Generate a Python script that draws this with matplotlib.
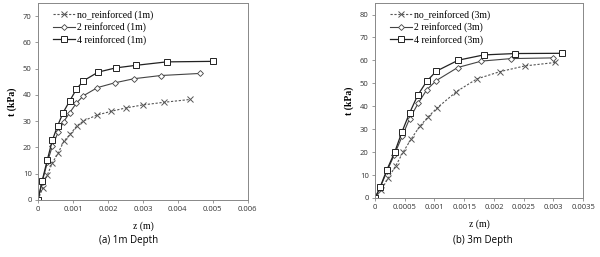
import matplotlib
matplotlib.use("Agg")
import matplotlib.pyplot as plt

# Panel (a) 1m depth
z_a_no = [0, 0.00013, 0.00027, 0.00041, 0.00058, 0.00074, 0.00092, 0.00111, 0.0013, 0.00168, 0.0021, 0.00253, 0.0030, 0.0036, 0.00436]
t_a_no = [0, 4.4, 9.6, 14.1, 17.9, 22.4, 25.0, 28.2, 30.1, 32.3, 33.8, 35.1, 36.2, 37.2, 38.3]
z_a_2 = [0, 0.00012, 0.00027, 0.00041, 0.00058, 0.00073, 0.00091, 0.0011, 0.0013, 0.0017, 0.00219, 0.00275, 0.00351, 0.00464]
t_a_2 = [0, 7.0, 14.4, 20.5, 25.9, 29.7, 33.3, 36.9, 39.7, 42.8, 44.6, 46.2, 47.4, 48.2]
z_a_4 = [0, 0.00012, 0.00027, 0.00041, 0.00056, 0.00072, 0.00091, 0.0011, 0.0013, 0.00172, 0.00222, 0.00281, 0.00368, 0.0050]
t_a_4 = [0, 7.3, 15.4, 22.7, 28.2, 33.3, 37.8, 42.2, 45.4, 48.7, 50.3, 51.3, 52.6, 52.8]

# Panel (b) 3m depth
z_b_no = [0, 0.0001, 0.00022, 0.00035, 0.00047, 0.00061, 0.00075, 0.00089, 0.00104, 0.00137, 0.00171, 0.0021, 0.00252, 0.00303]
t_b_no = [0, 3.3, 8.6, 14.1, 19.9, 25.8, 31.2, 35.3, 39.2, 46.4, 51.9, 55.1, 57.6, 59.1]
z_b_2 = [0, 0.000084, 0.0002, 0.00032, 0.00046, 0.00058, 0.00073, 0.00087, 0.00103, 0.00139, 0.00179, 0.00229, 0.0030]
t_b_2 = [0, 4.4, 11.6, 18.6, 27.1, 34.5, 41.5, 47.2, 51.2, 56.9, 59.7, 60.8, 61.1]
z_b_4 = [0, 0.000084, 0.0002, 0.00033, 0.00045, 0.00058, 0.00072, 0.00087, 0.00103, 0.0014, 0.00183, 0.00236, 0.00314]
t_b_4 = [0, 4.6, 12.3, 19.9, 28.6, 37.0, 44.9, 50.9, 55.3, 60.1, 62.4, 63.0, 63.1]

labels_a = ["no_reinforced (1m)", "2 reinforced (1m)", "4 reinforced (1m)"]
labels_b = ["no_reinforced (3m)", "2 reinforced (3m)", "4 reinforced (3m)"]
xticks_a = [0, 0.001, 0.002, 0.003, 0.004, 0.005, 0.006]
xticklabels_a = ["0", "0.001", "0.002", "0.003", "0.004", "0.005", "0.006"]
yticks_a = [0, 10, 20, 30, 40, 50, 60, 70]
xticks_b = [0, 0.0005, 0.001, 0.0015, 0.002, 0.0025, 0.003, 0.0035]
xticklabels_b = ["0", "0.0005", "0.001", "0.0015", "0.002", "0.0025", "0.003", "0.0035"]
yticks_b = [0, 10, 20, 30, 40, 50, 60, 70, 80]
captions = ["(a) 1m Depth", "(b) 3m Depth"]

fig = plt.figure(figsize=(6, 2.57), dpi=100)
ax1 = fig.add_axes([0.0633, 0.222, 0.3497, 0.766])
ax2 = fig.add_axes([0.625, 0.2296, 0.347, 0.7584])

serif = ["Liberation Serif", "DejaVu Serif"]
sans = ["Open Sans", "DejaVu Sans"]

def draw(ax, zs, ts, labels, xticks, xtl, yticks, xlim, ylim, caption, capx):
    (zn, z2, z4), (tn, t2, t4) = zs, ts
    ax.plot(zn, tn, color="#555555", ls=(0, (2, 1.5)), lw=0.8, marker="x",
            ms=4.5, mew=0.7, label=labels[0])
    ax.plot(z2, t2, color="#444444", ls="-", lw=0.8, marker="D", ms=3,
            mfc="white", mew=0.6, label=labels[1])
    ax.plot(z4, t4, color="#222222", ls="-", lw=0.9, marker="s", ms=4.5,
            mfc="white", mew=0.7, label=labels[2])
    ax.set_xlim(*xlim)
    ax.set_ylim(*ylim)
    ax.set_xticks(xticks)
    ax.set_xticklabels(xtl)
    ax.set_yticks(yticks)
    for lab in ax.get_xticklabels() + ax.get_yticklabels():
        lab.set_fontfamily(sans)
        lab.set_fontsize(5.5)
        lab.set_color("#333333")
    ax.tick_params(length=2.5, width=0.6, color="#888888", pad=2)
    for s in ax.spines.values():
        s.set_color("#888888")
        s.set_linewidth(0.7)
    ax.set_xlabel("z (m)", fontfamily=serif, fontsize=7, labelpad=6)
    ax.set_ylabel("t (kPa)", fontfamily=serif, fontsize=7, fontweight="bold", labelpad=4)
    leg = ax.legend(loc="upper left", frameon=False, prop={"family": serif, "size": 7},
                    handlelength=2.2, handletextpad=0.3, labelspacing=0.25,
                    borderaxespad=0.3, bbox_to_anchor=(0.04, 1.0))
    fig.text(capx, 0.065, caption, ha="center", va="center", fontfamily=sans, fontsize=7)

draw(ax1, (z_a_no, z_a_2, z_a_4), (t_a_no, t_a_2, t_a_4), labels_a, xticks_a,
     xticklabels_a, yticks_a, (0, 0.006), (0, 75), captions[0], 0.215)
draw(ax2, (z_b_no, z_b_2, z_b_4), (t_b_no, t_b_2, t_b_4), labels_b, xticks_b,
     xticklabels_b, yticks_b, (0, 0.0035), (0, 85), captions[1], 0.805)

fig.savefig("out.png", dpi=100)
